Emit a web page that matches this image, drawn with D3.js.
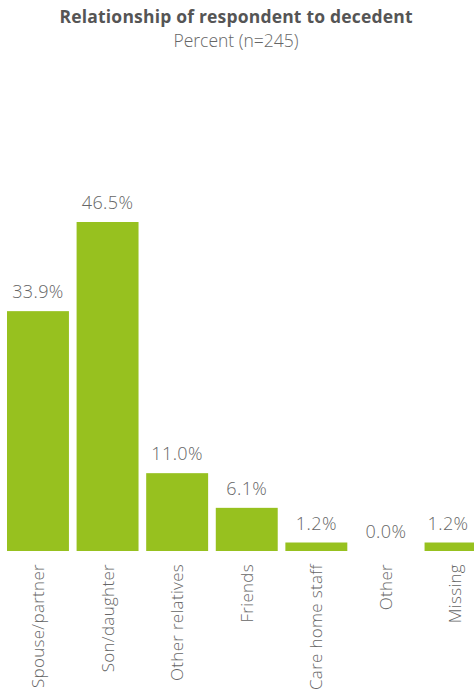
<!DOCTYPE html>
<html><head><meta charset="utf-8">
<script src="https://cdn.jsdelivr.net/npm/d3@7"></script>
<style>body{margin:0;background:#fff;}svg{display:block;}</style>
</head><body>
<script>
const categories = ["Spouse/partner","Son/daughter","Other relatives","Friends","Care home staff","Other","Missing"];
const values = [33.9,46.5,11.0,6.1,1.2,0.0,1.2];
const title = "Relationship of respondent to decedent";
const subtitle = "Percent (n=245)";

const W = 474, H = 700;
const svg = d3.select("body").append("svg").attr("width", W).attr("height", H);
const font = "'Open Sans', sans-serif";
const baseline = 551;
const x = d3.scaleBand().domain(categories).range([7, 7 + 68.5*7]).paddingInner(0.11).paddingOuter(0);
const y = d3.scaleLinear().domain([0, 46.5]).range([baseline, 222]);

svg.append("text").attr("x", 236).attr("y", 23).attr("text-anchor","middle")
  .attr("font-family", font).attr("font-weight","bold").attr("font-size", 17.5).attr("fill","#555")
  .attr("textLength", 353).attr("lengthAdjust","spacing").text(title);
svg.append("text").attr("x", 236).attr("y", 47).attr("text-anchor","middle")
  .attr("font-family", font).attr("font-size", 17.5).attr("font-weight", 300).attr("fill","#666").text(subtitle);

const data = categories.map((c,i)=>({c, v: values[i]}));
svg.selectAll("rect.bar").data(data).join("rect").attr("class","bar")
  .attr("x", d=>x(d.c)).attr("width", x.bandwidth())
  .attr("y", d=>y(d.v)).attr("height", d=>baseline - y(d.v))
  .attr("fill", "#97c11f");

svg.selectAll("text.val").data(data).join("text").attr("class","val")
  .attr("x", d=>Math.min(x(d.c)+x.bandwidth()/2, W - 26)).attr("y", d=>y(d.v)-13)
  .attr("text-anchor","middle").attr("font-family", font).attr("font-size", 18).attr("font-weight", 300)
  .attr("letter-spacing", 0.4).attr("fill","#666")
  .text(d=>d.v.toFixed(1)+"%");

const xAxis = d3.axisBottom(x).tickSize(0).tickPadding(0);
const gx = svg.append("g").attr("transform", `translate(0,${baseline})`).call(xAxis);
gx.select(".domain").remove();
gx.selectAll("text").attr("font-family", font).attr("font-size", 17).attr("font-weight", 300)
  .attr("letter-spacing", 0.3).attr("fill","#666")
  .attr("text-anchor","end").attr("transform","translate(0,13) rotate(-90)")
  .attr("dy","0.35em").attr("x",0).attr("y",0);
</script>
</body></html>
